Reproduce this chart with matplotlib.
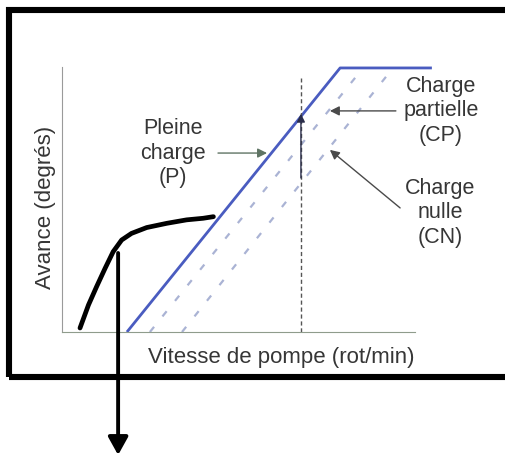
import matplotlib
matplotlib.use("Agg")
import matplotlib.pyplot as plt
from matplotlib.patches import Rectangle

plt.rcParams['font.family'] = ['Liberation Sans', 'DejaVu Sans']

# pump speed / advance, arbitrary units (axis runs 0..100 on both)
full_x = [18.4, 78.8, 104.8]
full_y = [0, 99.6, 99.6]

partial_x = [24.9, 84.4]
partial_y = [0, 98.1]
nul_x = [34.0, 92.9]
nul_y = [0, 98.1]

# vertical marker at a given speed
mark_x = 67.7
mark_top = 95.8
mark_arrow = (58.1, 82.3)

# hand drawn black curve
hand_x = [5.1, 7.5, 9.8, 12.2, 14.5, 16.9, 19.7, 24.0, 29.7, 35.3, 40.0, 42.9]
hand_y = [1.5, 10.2, 17.1, 24.0, 30.3, 34.7, 37.2, 39.4, 41.0, 42.3, 42.9, 43.5]
drop_x = 15.9
drop_y = (29.8, -46.4)

txt = '#363636'

fig = plt.figure(figsize=(5.06, 4.59), dpi=100)
ax = fig.add_axes([62 / 506, 127 / 459, 378 / 506, 272 / 459])
ax.set_xlim(0, 107.1)
ax.set_ylim(0, 102.6)
ax.set_xticks([])
ax.set_yticks([])
for s in ('top', 'right'):
    ax.spines[s].set_visible(False)
ax.spines['left'].set_bounds(0, 100)
ax.spines['bottom'].set_bounds(0, 100)
ax.spines['left'].set_color('#9a9a9a')
ax.spines['bottom'].set_color('#8f9c8c')

# curves
ax.plot(partial_x, partial_y, color='#aab3d4', lw=1.6, ls=(0, (3, 6)), clip_on=False)
ax.plot(nul_x, nul_y, color='#aab3d4', lw=1.6, ls=(0, (3, 6)), clip_on=False)
ax.plot(full_x, full_y, color='#4a5cc0', lw=2.0, clip_on=False, solid_capstyle='butt')

ax.plot([mark_x, mark_x], [0, mark_top], color='#555555', lw=1.0, ls=(0, (3, 2)))
ax.annotate('', xy=(mark_x, mark_arrow[1]), xytext=(mark_x, mark_arrow[0]),
            arrowprops=dict(arrowstyle='-|>', color='#2a2d4a', lw=1.0,
                            mutation_scale=12, shrinkA=0, shrinkB=0))

# labels with their arrows
ax.text(31.4, 67.5, 'Pleine\ncharge\n(P)', ha='center', va='center',
        fontsize=15.5, color=txt, linespacing=1.2)
ax.annotate('', xy=(58.1, 67.5), xytext=(44.2, 67.5),
            arrowprops=dict(arrowstyle='-|>', color='#5f7464', lw=1.0,
                            mutation_scale=14, shrinkA=0, shrinkB=0))

ax.text(107.4, 83.4, 'Charge\npartielle\n(CP)', ha='center', va='center',
        fontsize=15.5, color=txt, linespacing=1.2)
ax.annotate('', xy=(75.9, 83.4), xytext=(94.6, 83.4),
            arrowprops=dict(arrowstyle='-|>', color='#4a4a4a', lw=1.0,
                            mutation_scale=14, shrinkA=0, shrinkB=0))

ax.text(107.1, 44.9, 'Charge\nnulle\n(CN)', ha='center', va='center',
        fontsize=15.5, color=txt, linespacing=1.2)
ax.annotate('', xy=(75.9, 68.7), xytext=(95.8, 46.8),
            arrowprops=dict(arrowstyle='-|>', color='#4a4a4a', lw=1.0,
                            mutation_scale=14, shrinkA=0, shrinkB=0))

ax.text(62.0, -9.8, 'Vitesse de pompe (rot/min)', ha='center', va='center',
        fontsize=16, color=txt)
ax.text(-4.8, 46.8, 'Avance (degrés)', ha='center', va='center', rotation=90,
        fontsize=16, color=txt)

# hand drawn additions
ax.plot(hand_x, hand_y, color='black', lw=3.4, clip_on=False,
        solid_capstyle='round', solid_joinstyle='round')
ax.annotate('', xy=(drop_x, drop_y[1]), xytext=(drop_x, drop_y[0]),
            annotation_clip=False,
            arrowprops=dict(arrowstyle='-|>,head_length=0.45,head_width=0.25',
                            color='black', lw=2.8, mutation_scale=24,
                            shrinkA=0, shrinkB=0))

# thick frame, right side runs off the picture
fig.add_artist(Rectangle((9 / 506, 82 / 459), 520 / 506, 367 / 459,
                         transform=fig.transFigure, fill=False,
                         ec='black', lw=4.4))

fig.savefig('out.png', dpi=100)
